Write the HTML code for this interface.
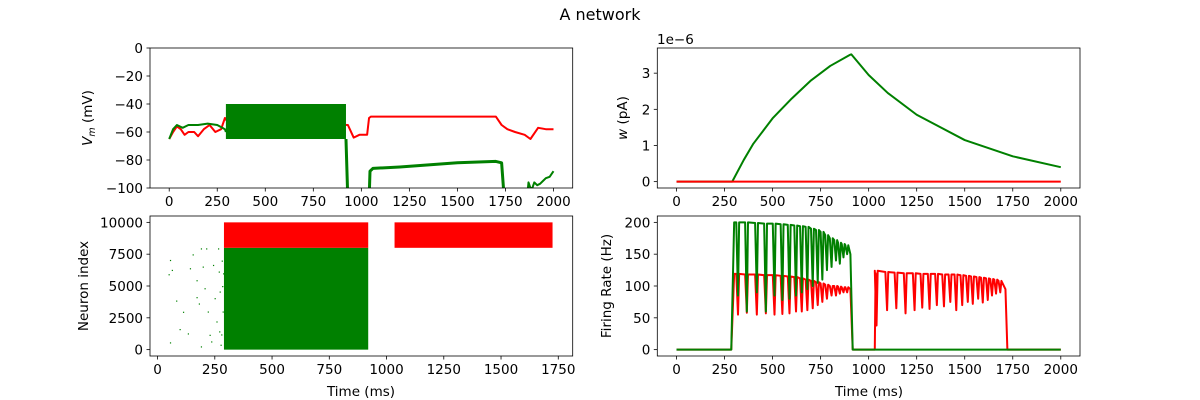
<!DOCTYPE html>
<html><head><meta charset="utf-8"><style>
body{margin:0;background:#fff;}
svg{display:block;font-family:"DejaVu Sans","Liberation Sans",sans-serif;}
text{fill:#000;font-size:13.5px;}
</style></head><body>
<svg id="fig" width="1200" height="400" xmlns="http://www.w3.org/2000/svg">
<rect width="1200" height="400" fill="#fff"/>
<text x="600" y="20" text-anchor="middle" style="font-size:16px">A network</text>
</svg>
<script>
// ---------- data ----------
const vmRedT=[0,20,40,60,80,100,130,150,180,210,240,270,290,300,930,960,990,1030,1040,1050,1200,1400,1600,1700,1730,1760,1800,1850,1880,1920,1960,2000];
const vmRedV=[-65,-60,-56,-58,-62,-60,-60,-63,-58,-55,-60,-58,-50,-52,-55,-64,-62,-62,-50,-49,-49,-49,-49,-49,-55,-58,-60,-62,-65,-57,-58,-58];
const vmGreenT=[0,20,40,70,100,150,200,250,290,295];
const vmGreenV=[-65,-58,-55,-57,-55,-55,-54,-55,-58,-60];
const vmGreenBand=[295,920,-65,-40];
const vmGreenT2=[920,930,1040,1045,1060,1200,1500,1700,1730,1745];
const vmGreenV2=[-65,-110,-110,-88,-86,-85,-82,-81,-82,-110];
const vmGreenT3=[1860,1870,1880,1890,1900,1915,1930,1945,1960,1980,2000];
const vmGreenV3=[-110,-96,-100,-100,-96,-98,-97,-95,-93,-92,-88];
const wT=[0,290,350,400,500,600,700,800,900,910,1000,1100,1250,1500,1750,2000];
const wGreen=[0,0,0.6,1.05,1.75,2.3,2.8,3.2,3.5,3.52,2.95,2.45,1.85,1.15,0.7,0.4];
const wRedT=[0,2000];
const wRed=[0,0];
const rasterBlocks=[[290,920,0,8000,'green'],[290,920,8000,10000,'red'],[1035,1725,8000,10000,'red']];
const scatterT=[54,48,62,81,111,96,132,54,141,153,170,170,180,189,197,205,189,212,219,227,234,242,249,257,264,267,271,269,275,280,282,284,278,286];
const scatterI=[7050,5930,6270,3860,2980,1620,1280,575,6400,7490,5460,4130,3630,7960,6530,4830,260,7960,3000,1170,650,6660,4050,2220,7960,6140,4570,1440,390,7000,5000,3000,1200,6000];
const gDipT=[320,366,418,465,510,551,588,622,652,681,709,735,759,783,807,830,850,869,888];
const gDipV=[85,60,90,60,85,78,80,85,90,95,100,105,110,125,130,140,135,145,150];
const gPeakV=[200,200,199,198,198,197,196,195,194,193,190,188,185,180,175,172,168,166,164];
const r1DipV=[55,58,55,57,55,56,57,60,60,62,65,70,75,80,85,85,88,90,90];
const r1PeakV=[119,118,118,117,117,116,115,114,112,110,108,106,104,102,100,100,99,98,98];
const r2DipT=[1041,1096,1144,1192,1239,1279,1317,1355,1392,1425,1456,1487,1516,1542,1570,1594,1620,1642,1663,1685];
const r2DipV=[38,62,65,57,62,66,64,70,68,75,62,70,75,72,80,74,78,85,88,90];
const r2PeakV=[124,122,121,120,120,119,119,119,118,118,118,117,116,115,114,113,112,111,110,108];
// ---------- helpers ----------
const NS='http://www.w3.org/2000/svg';
const fig=document.getElementById('fig');
function el(tag,attrs,parent){const e=document.createElementNS(NS,tag);for(const k in attrs)e.setAttribute(k,attrs[k]);(parent||fig).appendChild(e);return e;}
function axes(name,x0,y0,w,h,xmin,xmax,ymin,ymax){
  const g=el('g',{});
  
  
  const cid='clip-'+name;
  const cp=el('clipPath',{id:cid},g);el('rect',{x:x0,y:y0,width:w,height:h},cp);
  const plot=el('g',{'clip-path':'url(#'+cid+')'},g);
  return {g,plot,x0,y0,w,h,sx:v=>x0+(v-xmin)/(xmax-xmin)*w,sy:v=>y0+h-(v-ymin)/(ymax-ymin)*h};
}
function frame(a){const r=el('rect',{x:a.x0,y:a.y0,width:a.w,height:a.h,fill:'none',stroke:'#000','stroke-width':0.8},a.g);
  
  }
function xticks(a,vals,labels){vals.forEach((v,i)=>{const x=a.sx(v);el('line',{x1:x,x2:x,y1:a.y0+a.h,y2:a.y0+a.h+3.5,stroke:'#000','stroke-width':0.8},a.g);
  const t=el('text',{x:x,y:a.y0+a.h+18,'text-anchor':'middle'},a.g);t.textContent=labels[i];
  
  });}
function yticks(a,vals,labels){vals.forEach((v,i)=>{const y=a.sy(v);el('line',{x1:a.x0-3.5,x2:a.x0,y1:y,y2:y,stroke:'#000','stroke-width':0.8},a.g);
  const t=el('text',{x:a.x0-7,y:y+5,'text-anchor':'end'},a.g);t.textContent=labels[i];
  
  });}
function line(a,T,V,color,width,name){const p=el('polyline',{points:T.map((t,i)=>a.sx(t)+','+a.sy(V[i])).join(' '),fill:'none',stroke:color,'stroke-width':width||1.5,'stroke-linejoin':'round'},a.plot);
  
  return p;}
function oscSeries(start,rise,dipT,dipV,peakV,endT,endV,zeroEnd){
  const T=[0,start,rise],V=[0,0,peakV[0]];
  dipT.forEach((d,i)=>{T.push(d-9,d,d+6);V.push(peakV[i],dipV[i],peakV[i]);});
  T.push(endT,endT+12);V.push(endV,0);T.push(zeroEnd);V.push(0);return [T,V];}
const xl=['0','250','500','750','1000','1250','1500','1750','2000'];
const xv=[0,250,500,750,1000,1250,1500,1750,2000];
// ---------- top-left: Vm ----------
const A=axes('vm-axes',150,48,422.7,140,-100,2100,-100,0);
line(A,vmRedT,vmRedV,'red',2,'vm-red-trace');
line(A,vmGreenT,vmGreenV,'green',2,'vm-green-trace');
const band=el('rect',{x:A.sx(vmGreenBand[0]),y:A.sy(vmGreenBand[3]),width:A.sx(vmGreenBand[1])-A.sx(vmGreenBand[0]),height:A.sy(vmGreenBand[2])-A.sy(vmGreenBand[3]),fill:'green'},A.plot);


line(A,vmGreenT2,vmGreenV2,'green',3,'vm-green-trace-2');
line(A,vmGreenT3,vmGreenV3,'green',2,'vm-green-trace-3');
frame(A);xticks(A,xv,xl);
yticks(A,[0,-20,-40,-60,-80,-100],['0','\u221220','\u221240','\u221260','\u221280','\u2212100']);
const yl1=el('text',{transform:'translate(92,118) rotate(-90)','text-anchor':'middle'});
yl1.innerHTML='<tspan font-style="italic">V</tspan><tspan font-style="italic" font-size="9.5" dy="3">m</tspan><tspan dy="-3"> (mV)</tspan>';


// ---------- top-right: w ----------
const B=axes('w-axes',657.3,48,422.7,140,-100,2100,-0.176,3.696);
line(B,wT,wGreen,'green',2,'w-green-trace');
line(B,wRedT,wRed,'red',2,'w-red-trace');
frame(B);xticks(B,xv,xl);yticks(B,[0,1,2,3],['0','1','2','3']);
const off=el('text',{x:657,y:44});off.textContent='1e\u22126';


const yl2=el('text',{transform:'translate(627,118) rotate(-90)','text-anchor':'middle'});
yl2.innerHTML='<tspan font-style="italic">w</tspan> (pA)';


// ---------- bottom-left: raster ----------
const C=axes('raster-axes',150,216,422.7,140,-33,1813,-500,10500);
rasterBlocks.forEach(b=>{const r=el('rect',{x:C.sx(b[0]),y:C.sy(b[3]),width:C.sx(b[1])-C.sx(b[0]),height:C.sy(b[2])-C.sy(b[3]),fill:b[4]},C.plot);
  
  });
scatterT.forEach((t,i)=>{const r=el('rect',{x:C.sx(t),y:C.sy(scatterI[i]),width:1.2,height:1.2,fill:'green'},C.plot);
  
  });
frame(C);xticks(C,[0,250,500,750,1000,1250,1500,1750],['0','250','500','750','1000','1250','1500','1750']);
yticks(C,[0,2500,5000,7500,10000],['0','2500','5000','7500','10000']);
const yl3=el('text',{transform:'translate(88,286) rotate(-90)','text-anchor':'middle'});yl3.textContent='Neuron index';


const xl3=el('text',{x:361,y:396,'text-anchor':'middle'});xl3.textContent='Time (ms)';


// ---------- bottom-right: rate ----------
const D=axes('rate-axes',657.3,216,422.7,140,-100,2100,-10,210);
const [rT1,rV1]=oscSeries(285,300,gDipT,r1DipV,r1PeakV,905,95,920);
const rT=rT1.slice(0,-1).concat([1025,1032,1036,1040]);const rV=rV1.slice(0,-1).concat([0,0,120,40]);
r2DipT.forEach((d,i)=>{rT.push(d-9,d,d+6);rV.push(r2PeakV[i],r2DipV[i],r2PeakV[i]);});
rT.push(1712,1722,2000);rV.push(95,0,0);
line(D,rT,rV,'red',2,'rate-red-trace');
const [gT,gV]=oscSeries(285,300,gDipT,gDipV,gPeakV,905,150,2000);
line(D,gT,gV,'green',2,'rate-green-trace');
frame(D);xticks(D,xv,xl);yticks(D,[0,50,100,150,200],['0','50','100','150','200']);
const yl4=el('text',{transform:'translate(611,286) rotate(-90)','text-anchor':'middle'});yl4.textContent='Firing Rate (Hz)';


const xl4=el('text',{x:869,y:396,'text-anchor':'middle'});xl4.textContent='Time (ms)';


</script>
</body></html>
